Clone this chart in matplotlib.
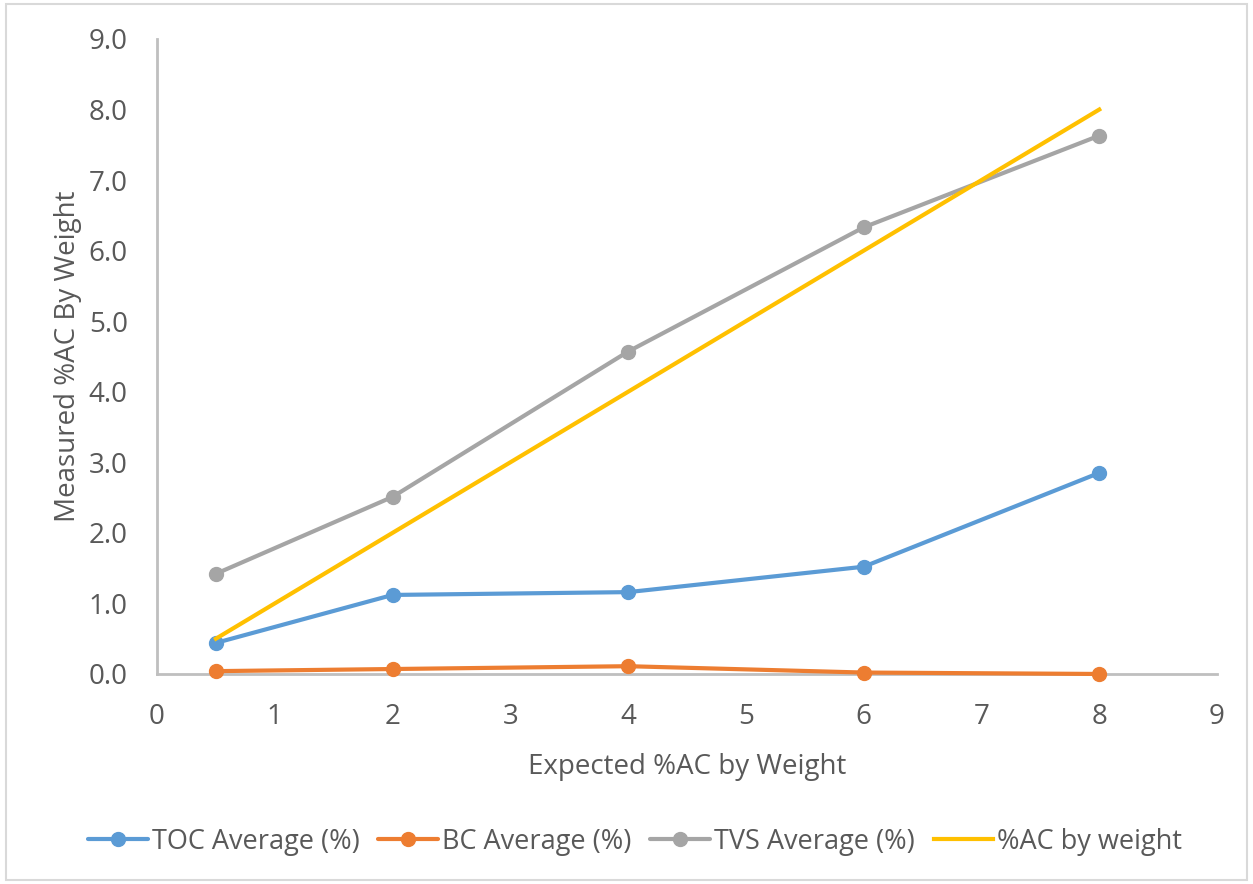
import matplotlib.pyplot as plt
from matplotlib.patches import Rectangle

plt.rcParams['font.family'] = ['Open Sans', 'DejaVu Sans']

# Expected vs measured activated carbon content
expected = [0.5, 2, 4, 6, 8]
toc_avg = [0.44, 1.12, 1.16, 1.52, 2.85]
bc_avg = [0.04, 0.07, 0.11, 0.02, 0.00]
tvs_avg = [1.42, 2.51, 4.57, 6.33, 7.63]
ac_by_weight = [0.5, 2, 4, 6, 8]

series_labels = ['TOC Average (%)', 'BC Average (%)', 'TVS Average (%)', '%AC by weight']
colors = ['#5b9bd5', '#ed7d31', '#a5a5a5', '#ffc000']
x_ticks = list(range(0, 10))
y_ticks = [i * 1.0 for i in range(0, 10)]

fig = plt.figure(figsize=(12.53, 8.84), dpi=100)
ax = fig.add_axes([0.1253, 0.2376, 0.846, 0.7183])

for vals, lab, c in zip([toc_avg, bc_avg, tvs_avg], series_labels[:3], colors[:3]):
    ax.plot(expected, vals, color=c, lw=3, marker='o', ms=10, label=lab,
            solid_capstyle='round', clip_on=False, zorder=3)
ax.plot(expected, ac_by_weight, color=colors[3], lw=3, label=series_labels[3],
        clip_on=False, zorder=3)

ax.set_xlim(0, 9)
ax.set_ylim(0, 9)
ax.set_xticks(x_ticks)
ax.set_yticks(y_ticks)
ax.set_yticklabels([f'{v:.1f}' for v in y_ticks])
ax.tick_params(length=0, labelsize=20, labelcolor='#595959')
ax.tick_params(axis='y', pad=21)
ax.tick_params(axis='x', pad=21)

for side in ['top', 'right']:
    ax.spines[side].set_visible(False)
for side in ['left', 'bottom']:
    ax.spines[side].set_color('#bfbfbf')
    ax.spines[side].set_linewidth(2)

ax.set_xlabel('Expected %AC by Weight', fontsize=20, color='#595959', labelpad=16)
ax.set_ylabel('Measured %AC By Weight', fontsize=20, color='#595959', labelpad=5)

leg = fig.legend(loc='center', bbox_to_anchor=(0.507, 0.048), ncol=4, frameon=False,
                 fontsize=19.5, handlelength=2.2, columnspacing=0.7, handletextpad=0.15)
for t in leg.get_texts():
    t.set_color('#595959')

fig.patches.append(Rectangle((0.005, 0.005), 0.99, 0.99, transform=fig.transFigure,
                             fill=False, edgecolor='#d9d9d9', lw=1.5))

fig.savefig('out.png', dpi=100)
